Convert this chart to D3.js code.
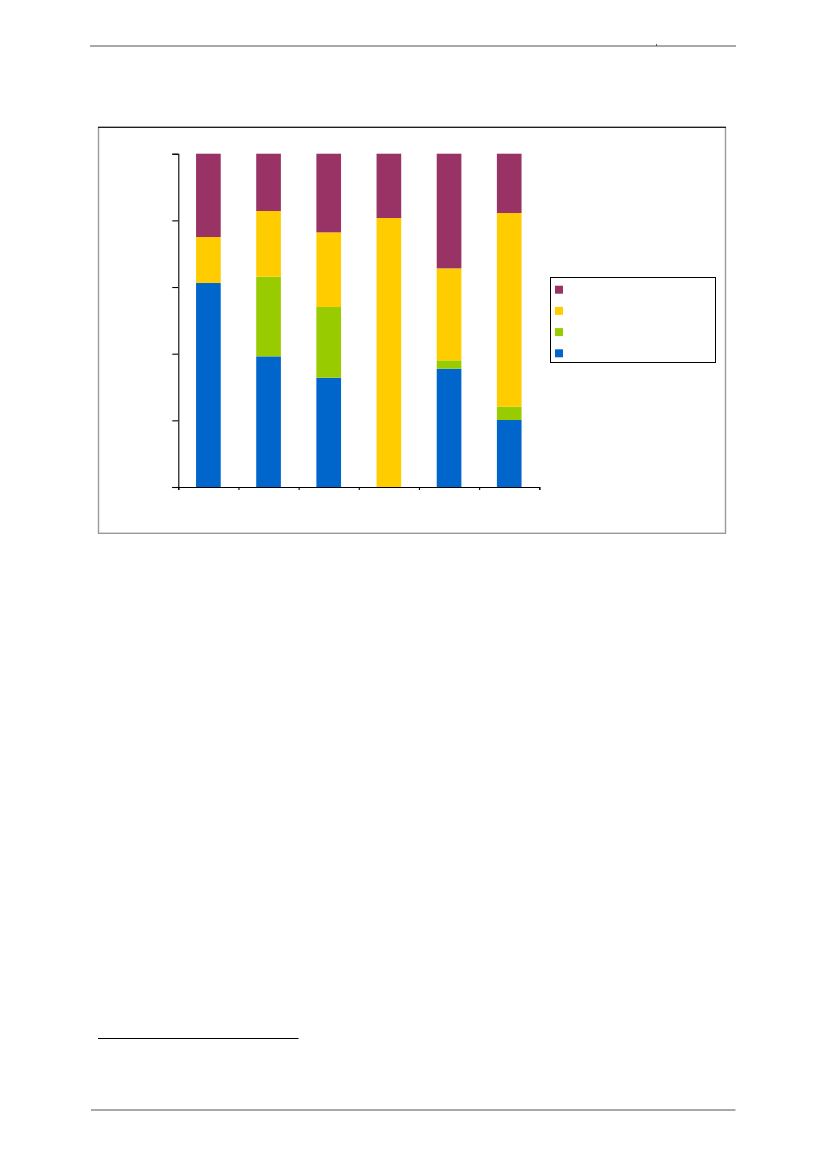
<!DOCTYPE html>
<html>
<head>
<meta charset="utf-8">
<script src="https://cdn.jsdelivr.net/npm/d3@7"></script>
<style>
  body { margin: 0; background: #fff; }
  svg { display: block; }
</style>
</head>
<body>
<div id="canvas1"></div>
<script>
// chart data (percent of each column)
var categories = ["c1", "c2", "c3", "c4", "c5", "c6"];
var seriesNames = ["s1", "s2", "s3", "s4"];   // bottom to top: blue, green, yellow, purple
var seriesColors = ["#0066cc", "#99cc00", "#ffcc00", "#993366"];
var blueVals   = [61.2, 39.2, 32.8, 0,    35.5, 20.1];
var greenVals  = [0,    23.9, 21.2, 0,    2.5,  4.0];
var yellowVals = [13.8, 19.7, 22.4, 80.7, 27.6, 58.1];
var purpleVals = [25.0, 17.2, 23.6, 19.3, 34.4, 17.8];
var yTicks = [0, 20, 40, 60, 80, 100];

var W = 826, H = 1169;
var svgContainer = d3.select("#canvas1").append("svg")
                     .attr("width", W)
                     .attr("height", H);

// page rules (header, footnote, footer)
svgContainer.append("line").attr("x1", 90).attr("x2", 736).attr("y1", 46).attr("y2", 46)
            .attr("stroke", "#555").attr("stroke-width", 1.2);
svgContainer.append("line").attr("x1", 656.5).attr("x2", 656.5).attr("y1", 44).attr("y2", 46)
            .attr("stroke", "#333").attr("stroke-width", 0.8);
svgContainer.append("line").attr("x1", 98).attr("x2", 298.5).attr("y1", 1038.5).attr("y2", 1038.5)
            .attr("stroke", "#000").attr("stroke-width", 1);
svgContainer.append("line").attr("x1", 91).attr("x2", 735.5).attr("y1", 1110).attr("y2", 1110)
            .attr("stroke", "#555").attr("stroke-width", 1.2);

// chart frame
svgContainer.append("rect").attr("x", 98.5).attr("y", 127.3)
            .attr("width", 627).attr("height", 406)
            .attr("fill", "none").attr("stroke", "#999").attr("stroke-width", 1.4);
svgContainer.append("line").attr("x1", 98).attr("x2", 726).attr("y1", 127.3).attr("y2", 127.3)
            .attr("stroke", "#000").attr("stroke-width", 1);

// plot area
var x0 = 178.3, x1 = 539.3, yTop = 153.7, yBot = 487;

var x = d3.scaleBand().domain(categories).range([x0, x1]).paddingInner(0.59).paddingOuter(0.295);
var y = d3.scaleLinear().domain([0, 100]).range([yBot, yTop]);

var table = categories.map(function(c, i) {
  return { cat: c, s1: blueVals[i], s2: greenVals[i], s3: yellowVals[i], s4: purpleVals[i] };
});
var stacked = d3.stack().keys(seriesNames)(table);

var plot = svgContainer.append("g");
plot.selectAll("g.series")
    .data(stacked)
    .enter().append("g")
    .attr("class", "series")
    .attr("fill", function(d, i) { return seriesColors[i]; })
    .selectAll("rect")
    .data(function(d) { return d; })
    .enter().append("rect")
    .attr("x", function(d) { return x(d.data.cat); })
    .attr("y", function(d) { return y(d[1]); })
    .attr("width", x.bandwidth())
    .attr("height", function(d) { return Math.max(0, y(d[0]) - y(d[1])); });

// y axis, no labels
var yAxis = d3.axisLeft(y).tickValues(yTicks).tickSize(6).tickFormat("");
svgContainer.append("g").attr("transform", "translate(" + x0 + ",0)").call(yAxis)
            .call(function(g) { g.selectAll("path, line").attr("stroke", "#000").attr("stroke-width", 1.1); });

// x axis, ticks between columns
var xEdge = d3.scaleLinear().domain([0, categories.length]).range([x0, x1]);
var xAxis = d3.axisBottom(xEdge).tickValues(d3.range(categories.length + 1)).tickSize(3).tickSizeOuter(3).tickFormat("");
svgContainer.append("g").attr("transform", "translate(0," + yBot + ")").call(xAxis)
            .call(function(g) { g.selectAll("path, line").attr("stroke", "#000").attr("stroke-width", 1.1); });

// legend
var legend = svgContainer.append("g");
legend.append("rect").attr("x", 550.5).attr("y", 277.5).attr("width", 165).attr("height", 85)
      .attr("fill", "#fff").attr("stroke", "#000").attr("stroke-width", 1);
var legendOrder = [3, 2, 1, 0];
legend.selectAll("rect.sw")
      .data(legendOrder)
      .enter().append("rect")
      .attr("class", "sw")
      .attr("x", 555)
      .attr("y", function(d, i) { return 285.7 + i * 21.2; })
      .attr("width", 8).attr("height", 8)
      .attr("fill", function(d) { return seriesColors[d]; });
</script>
</body>
</html>
